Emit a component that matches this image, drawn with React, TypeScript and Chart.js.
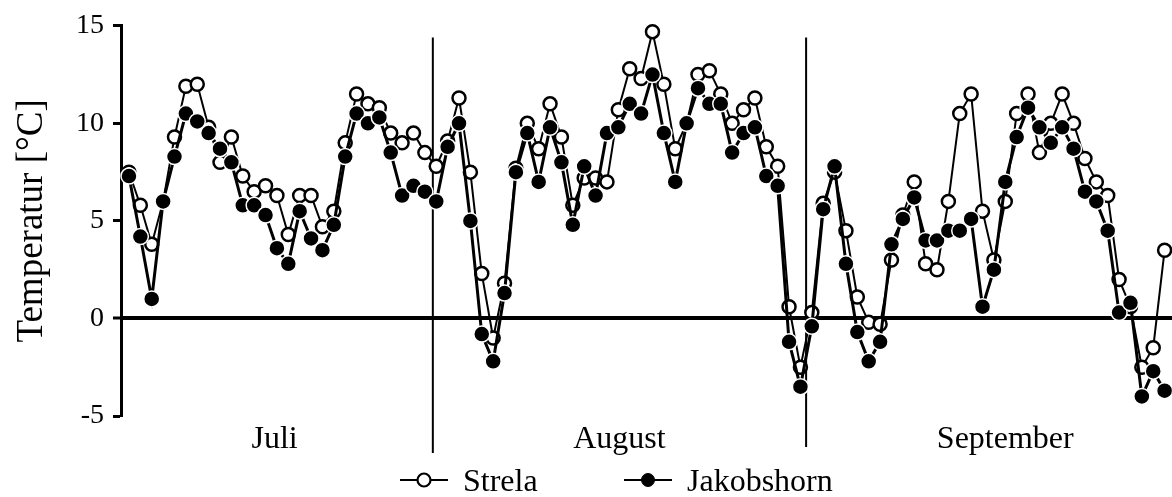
import React, { useEffect, useRef } from "react";
import { Chart, registerables } from "chart.js";

Chart.register(...registerables);

// Daily mean temperatures (°C), 1 July – 30 September
const strela = [
  7.5, 5.8, 3.8, 6.0, 9.3, 11.9, 12.0, 9.8, 8.0, 9.3,
  7.3, 6.5, 6.8, 6.3, 4.3, 6.3, 6.3, 4.7, 5.5, 9.0,
  11.5, 11.0, 10.8, 9.5, 9.0, 9.5, 8.5, 7.8, 9.1, 11.3,
  7.5, 2.3, -1.0, 1.8, 7.7, 10.0, 8.7, 11.0, 9.3, 5.8,
  7.2, 7.2, 7.0, 10.7, 12.8, 12.3, 14.7, 12.0, 8.7, 10.0,
  12.5, 12.7, 11.5, 10.0, 10.7, 11.3, 8.8, 7.8, 0.6, -2.5,
  0.3, 5.9, 7.5, 4.5, 1.1, -0.2, -0.3, 3.0, 5.3, 7.0,
  2.8, 2.5, 6.0, 10.5, 11.5, 5.5, 3.0, 6.0, 10.5, 11.5,
  8.5, 10.0, 11.5, 10.0, 8.2, 7.0, 6.3, 2.0, 0.6, -2.5,
  -1.5, 3.5,
];

const jakobshorn = [
  7.3, 4.2, 1.0, 6.0, 8.3, 10.5, 10.1, 9.5, 8.7, 8.0,
  5.8, 5.8, 5.3, 3.6, 2.8, 5.5, 4.1, 3.5, 4.8, 8.3,
  10.5, 10.0, 10.3, 8.5, 6.3, 6.8, 6.5, 6.0, 8.8, 10.0,
  5.0, -0.8, -2.2, 1.3, 7.5, 9.5, 7.0, 9.8, 8.0, 4.8,
  7.8, 6.3, 9.5, 9.8, 11.0, 10.5, 12.5, 9.5, 7.0, 10.0,
  11.8, 11.0, 11.0, 8.5, 9.5, 9.8, 7.3, 6.8, -1.2, -3.5,
  -0.4, 5.6, 7.8, 2.8, -0.7, -2.2, -1.2, 3.8, 5.1, 6.2,
  4.0, 4.0, 4.5, 4.5, 5.1, 0.6, 2.5, 7.0, 9.3, 10.8,
  9.8, 9.0, 9.8, 8.7, 6.5, 6.0, 4.5, 0.3, 0.8, -4.0,
  -2.7, -3.7,
];

const seriesNames = ["Strela", "Jakobshorn"];
const months = ["Juli", "August", "September"];
// month label centres and separators, in day-index units
const monthCenters = [12.8, 43.1, 77.0];
const monthBoundaries = [26.7, 59.5];
const yTicks = [-5, 0, 5, 10, 15];
const yTitle = "Temperatur [°C]";

const FONT = "'Liberation Serif', 'Times New Roman', serif";

const annotate = {
  id: "annotate",
  beforeDatasetsDraw(chart: any) {
    const { ctx, chartArea, scales } = chart;
    const x = scales.x;
    const y = scales.y;
    ctx.save();
    ctx.strokeStyle = "#000";
    ctx.lineWidth = 2;
    monthBoundaries.forEach((b, i) => {
      const px = x.getPixelForValue(b);
      ctx.beginPath();
      ctx.moveTo(px, y.getPixelForValue(14.4));
      ctx.lineTo(px, chartArea.bottom + (i === 0 ? 37 : 31));
      ctx.stroke();
    });
    ctx.restore();
  },
  afterDraw(chart: any) {
    const { ctx, chartArea, scales } = chart;
    const x = scales.x;
    ctx.save();
    ctx.fillStyle = "#000";
    ctx.font = `32px ${FONT}`;
    ctx.textAlign = "center";
    ctx.textBaseline = "alphabetic";
    months.forEach((m, i) => {
      ctx.fillText(m, x.getPixelForValue(monthCenters[i]), chartArea.bottom + 32);
    });

    // legend
    const sampleCenters = [424, 648];
    const ly = 480;
    chart.data.datasets.forEach((ds: any, i: number) => {
      const cx = sampleCenters[i];
      ctx.strokeStyle = "#000";
      ctx.lineWidth = 2;
      ctx.beginPath();
      ctx.moveTo(cx - 24, ly);
      ctx.lineTo(cx + 24, ly);
      ctx.stroke();
      ctx.beginPath();
      ctx.arc(cx, ly, 6.5, 0, Math.PI * 2);
      ctx.fillStyle = i === 0 ? "#fff" : "#000";
      ctx.fill();
      ctx.lineWidth = i === 0 ? 2.2 : 1;
      ctx.strokeStyle = "#000";
      ctx.stroke();
      ctx.fillStyle = "#000";
      ctx.textAlign = "left";
      ctx.fillText(ds.label, cx + 39, ly + 11);
    });
    ctx.restore();
  },
};

export default function App() {
  const ref = useRef<HTMLCanvasElement | null>(null);

  useEffect(() => {
    if (!ref.current) return;
    const days = strela.map((_, i) => i);
    const chart = new Chart(ref.current, {
      type: "line",
      data: {
        datasets: [
          {
            label: seriesNames[0],
            data: days.map((d) => ({ x: d, y: strela[d] })),
            borderColor: "#000",
            borderWidth: 2,
            pointBackgroundColor: "#fff",
            pointBorderColor: "#000",
            pointBorderWidth: 2.5,
            pointRadius: 6.5,
            tension: 0,
            order: 1,
            clip: false,
          },
          {
            label: seriesNames[1],
            data: days.map((d) => ({ x: d, y: jakobshorn[d] })),
            borderColor: "#000",
            borderWidth: 3,
            pointBackgroundColor: "#000",
            pointBorderColor: "#fff",
            pointBorderWidth: 1.5,
            pointRadius: 8,
            tension: 0,
            order: 0,
            clip: false,
          },
        ],
      },
      options: {
        animation: false,
        responsive: false,
        layout: { autoPadding: false, padding: { top: 25, bottom: 81, left: 0, right: 0 } },
        plugins: {
          legend: { display: false },
          tooltip: { enabled: false },
        },
        scales: {
          x: {
            type: "linear",
            display: false,
            min: -0.7,
            max: 91.65,
          },
          y: {
            type: "linear",
            min: -5,
            max: 15,
            afterFit: (scale: any) => {
              scale.width = 121;
            },
            afterBuildTicks: (scale: any) => {
              scale.ticks = yTicks.map((v) => ({ value: v }));
            },
            ticks: {
              color: "#000",
              font: { family: FONT, size: 28 },
              padding: 9,
            },
            border: { display: true, color: "#000", width: 3 },
            grid: {
              color: (c: any) => (c.tick && c.tick.value === 0 ? "#000" : "rgba(0,0,0,0)"),
              lineWidth: (c: any) => (c.tick && c.tick.value === 0 ? 4 : 1),
              tickColor: "#000",
              tickWidth: 3,
              tickLength: 8,
            },
            title: {
              display: true,
              text: yTitle,
              color: "#000",
              font: { family: FONT, size: 37 },
              padding: { top: 10, bottom: 0 },
            },
          },
        },
      },
      plugins: [annotate],
    });
    return () => chart.destroy();
  }, []);

  return (
    <div style={{ position: "absolute", left: 0, top: 0, width: 1172, height: 497, background: "#fff" }}>
      <canvas ref={ref} width={1172} height={497} style={{ display: "block" }} />
    </div>
  );
}
